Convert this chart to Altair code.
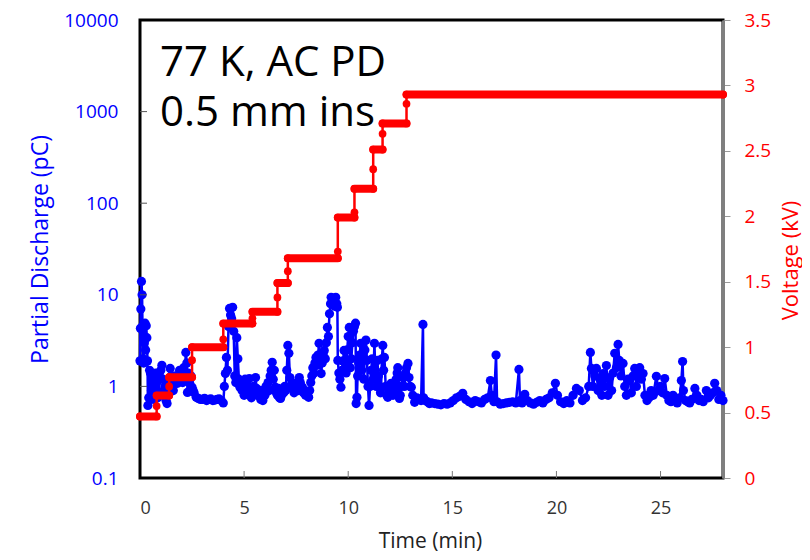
import altair as alt
import pandas as pd

# ---------------- data ----------------
pd_time = [0.00, 0.02, 0.04, 0.07, 0.10, 0.12, 0.15, 0.18, 0.21, 0.24, 0.27, 0.30, 0.33, 0.36, 0.38,
           0.42, 0.46, 0.50, 0.55, 0.60, 0.65, 0.70, 0.75, 0.80, 0.85, 0.90, 0.95, 1.00, 1.05, 1.10,
           1.15, 1.20, 1.25, 1.30, 1.35, 1.40, 1.45, 1.50, 1.55, 1.60, 1.65, 1.70, 1.75, 1.80, 1.85,
           1.90, 1.95, 2.00, 2.05, 2.10, 2.15, 2.20, 2.25, 2.28, 2.32, 2.38, 2.45, 2.50, 2.55, 2.60,
           2.70, 2.80, 2.90, 3.00, 3.10, 3.20, 3.30, 3.40, 3.50, 3.60, 3.70, 3.80, 3.90, 4.00, 4.05,
           4.10, 4.15, 4.20, 4.25, 4.30, 4.35, 4.40, 4.45, 4.50, 4.55, 4.60, 4.65, 4.70, 4.75, 4.80,
           4.85, 4.90, 4.95, 5.00, 5.05, 5.10, 5.15, 5.20, 5.25, 5.30, 5.35, 5.40, 5.45, 5.50, 5.55,
           5.60, 5.65, 5.70, 5.75, 5.80, 5.85, 5.90, 5.95, 6.00, 6.05, 6.10, 6.15, 6.20, 6.25, 6.30,
           6.35, 6.40, 6.45, 6.50, 6.55, 6.60, 6.65, 6.70, 6.75, 6.80, 6.85, 6.90, 6.95, 7.00, 7.05,
           7.10, 7.15, 7.20, 7.25, 7.30, 7.35, 7.40, 7.45, 7.50, 7.55, 7.60, 7.65, 7.70, 7.75, 7.80,
           7.85, 7.90, 7.95, 8.00, 8.05, 8.10, 8.15, 8.20, 8.25, 8.30, 8.35, 8.40, 8.45, 8.50, 8.55,
           8.60, 8.65, 8.70, 8.75, 8.80, 8.85, 8.90, 8.95, 9.00, 9.05, 9.10, 9.15, 9.18, 9.25, 9.30,
           9.35, 9.40, 9.45, 9.48, 9.50, 9.55, 9.60, 9.65, 9.70, 9.75, 9.80, 9.85, 9.90, 9.95, 10.00,
           10.05, 10.10, 10.15, 10.20, 10.25, 10.30, 10.35, 10.38, 10.42, 10.45, 10.50, 10.55, 10.60,
           10.65, 10.70, 10.75, 10.80, 10.85, 10.90, 10.95, 11.00, 11.05, 11.10, 11.15, 11.20, 11.26,
           11.30, 11.35, 11.40, 11.45, 11.50, 11.55, 11.58, 11.62, 11.66, 11.70, 11.74, 11.80, 11.85,
           11.90, 11.95, 12.00, 12.06, 12.10, 12.15, 12.20, 12.25, 12.30, 12.35, 12.38, 12.42, 12.46,
           12.50, 12.55, 12.62, 12.70, 12.75, 12.80, 12.87, 12.92, 12.97, 13.03, 13.10, 13.19, 13.30,
           13.40, 13.50, 13.59, 13.62, 13.70, 13.80, 13.90, 14.00, 14.15, 14.30, 14.45, 14.60, 14.75,
           14.90, 15.05, 15.20, 15.35, 15.50, 15.65, 15.80, 15.95, 16.10, 16.25, 16.40, 16.55, 16.70,
           16.83, 16.90, 17.00, 17.10, 17.15, 17.30, 17.45, 17.60, 17.75, 17.90, 18.05, 18.20, 18.25,
           18.35, 18.48, 18.60, 18.75, 18.90, 19.05, 19.20, 19.35, 19.50, 19.65, 19.80, 19.95, 20.05,
           20.20, 20.35, 20.50, 20.65, 20.80, 20.96, 21.10, 21.25, 21.40, 21.55, 21.63, 21.68, 21.75,
           21.85, 21.92, 22.00, 22.10, 22.18, 22.24, 22.30, 22.40, 22.48, 22.56, 22.65, 22.72, 22.80,
           22.88, 22.96, 23.02, 23.10, 23.20, 23.28, 23.36, 23.44, 23.52, 23.60, 23.68, 23.76, 23.84,
           23.92, 24.00, 24.08, 24.16, 24.25, 24.35, 24.45, 24.55, 24.65, 24.80, 24.90, 25.00, 25.10,
           25.20, 25.30, 25.40, 25.50, 25.60, 25.70, 25.80, 25.92, 26.00, 26.06, 26.10, 26.20, 26.30,
           26.40, 26.50, 26.65, 26.75, 26.85, 26.95, 27.05, 27.20, 27.30, 27.40, 27.50, 27.60, 27.70,
           27.80, 27.90, 28.00]
pd_pc = [1.9, 4.3, 7.0, 14.0, 10.0, 4.5, 2.0, 1.8, 3.0, 4.9, 2.5, 4.6, 3.4, 1.9, 0.62,
         0.75, 1.5, 1.4, 0.9, 1.15, 0.72, 0.8, 1.4, 1.1, 0.75, 0.86, 1.2, 1.5, 1.7, 1.2,
         0.9, 1.0, 0.7, 0.65, 0.8, 1.2, 1.57, 1.3, 1.0, 0.9, 1.1, 1.3, 1.2, 1.08, 1.3,
         1.5, 1.2, 1.4, 1.1, 1.6, 1.3, 2.35, 1.8, 0.86, 1.4, 1.1, 1.3, 0.98, 0.9, 0.85,
         0.76, 0.74, 0.72, 0.72, 0.74, 0.70, 0.72, 0.73, 0.70, 0.71, 0.72, 0.73, 0.70, 0.66, 1.0,
         1.38, 2.07, 1.5, 4.5, 7.1, 6.0, 5.5, 7.3, 4.0, 1.3, 1.1, 3.4, 2.0, 1.2, 0.98,
         1.1, 0.9, 1.0, 0.8, 1.2, 0.9, 0.85, 1.0, 1.22, 0.8, 0.75, 0.9, 1.0, 0.85, 1.25,
         0.95, 0.8, 0.9, 0.78, 0.72, 0.9, 0.7, 0.85, 0.8, 1.0, 0.9, 1.1, 0.9, 1.3, 1.5,
         1.83, 1.2, 1.5, 0.98, 0.85, 0.8, 0.95, 0.75, 0.74, 0.8, 0.9, 0.85, 1.0, 0.9, 1.5,
         2.8, 2.3, 1.25, 1.0, 1.1, 0.98, 0.85, 0.9, 1.0, 1.1, 0.9, 1.25, 1.1, 0.95, 0.98,
         0.85, 0.9, 0.8, 0.85, 0.8, 0.76, 0.9, 1.1, 1.3, 1.6, 1.4, 1.8, 2.07, 1.7, 2.2,
         2.95, 2.0, 1.38, 1.8, 2.2, 2.47, 2.0, 3.0, 4.4, 3.5, 6.2, 8.0, 9.4, 8.5, 9.0,
         7.5, 9.4, 8.0, 7.3, 1.92, 1.4, 1.2, 0.98, 1.5, 1.9, 2.47, 1.8, 1.4, 2.5, 3.5,
         4.4, 1.6, 2.0, 3.0, 4.0, 4.5, 4.9, 0.65, 0.76, 1.3, 1.8, 2.2, 2.95,
         1.5, 2.0, 1.2, 2.5, 3.2, 1.92, 1.0, 0.62, 1.0, 1.5, 2.0, 1.2, 2.95,
         1.5, 1.0, 1.92, 1.3, 1.0, 0.85, 0.98, 2.0, 2.8, 1.5, 2.07, 1.0, 0.8,
         0.76, 0.9, 0.85, 1.08, 0.9, 0.8, 0.85, 1.0, 1.2, 1.4, 1.6, 1.0, 0.74,
         0.8, 1.0, 1.25, 1.0, 1.4, 1.6, 1.78, 1.25, 1.0, 0.98, 0.8, 0.67, 0.75,
         0.72, 0.70, 4.75, 0.75, 0.70, 0.68, 0.65, 0.66, 0.65, 0.64, 0.63, 0.65, 0.64,
         0.66, 0.70, 0.75, 0.78, 0.84, 0.72, 0.68, 0.65, 0.70, 0.68, 0.66, 0.72, 0.75,
         1.16, 0.80, 0.68, 2.2, 0.68, 0.64, 0.65, 0.66, 0.67, 0.68, 0.66, 1.53, 0.70,
         0.66, 0.82, 0.70, 0.66, 0.64, 0.67, 0.70, 0.66, 0.72, 0.75, 0.85, 1.08, 0.80,
         0.68, 0.65, 0.70, 0.66, 0.80, 0.95, 0.90, 0.70, 0.75, 1.0, 2.35, 1.57, 1.0,
         1.3, 1.57, 0.9, 1.2, 0.8, 1.38, 1.0, 1.69, 0.8, 1.25, 0.9, 1.4, 2.3,
         1.6, 2.87, 1.92, 1.3, 1.78, 1.0, 0.8, 1.2, 1.16, 0.85, 1.3, 1.57, 1.0,
         1.3, 1.6, 1.2, 1.38, 0.8, 0.70, 0.75, 0.9, 0.8, 1.29, 0.9, 1.0, 0.85,
         1.22, 0.8, 0.70, 0.68, 0.8, 0.70, 0.66, 0.75, 1.16, 1.87, 0.9, 0.70, 0.68,
         0.66, 0.72, 0.95, 0.8, 0.70, 0.72, 0.68, 0.9, 0.75, 0.8, 0.85, 1.08, 0.9,
         0.72, 0.8, 0.7]

# voltage steps (kV)
step_start = [0.0, 0.8, 1.4, 2.5, 4.0, 5.4, 6.6, 7.1, 9.5, 10.3, 11.2, 11.65, 12.8]
step_end = [0.8, 1.4, 2.5, 4.0, 5.4, 6.6, 7.1, 9.5, 10.3, 11.2, 11.65, 12.8, 28.0]
step_kv = [0.47, 0.63, 0.77, 1.0, 1.18, 1.27, 1.49, 1.68, 1.99, 2.21, 2.51, 2.71, 2.93]
# readings taken during each ramp between steps
ramp_kv = [0.55, 0.70, 0.90, 1.06, 1.22, 1.38, 1.58, 1.73, 2.03, 2.36, 2.63, 2.86]

x_ticks = [0, 5, 10, 15, 20, 25]
pd_ticks = [0.1, 1, 10, 100, 1000, 10000]
kv_ticks = [0, 0.5, 1, 1.5, 2, 2.5, 3, 3.5]

BLUE = "#0000FF"
RED = "#FF0000"
FONT = "Open Sans"
W, H = 583, 458

# ---------------- tables ----------------
pd_df = pd.DataFrame({"t": pd_time, "pc": pd_pc})
steps_df = pd.DataFrame({"s": step_start, "e": step_end, "kv": step_kv})
vt, vv = [], []
for i in range(len(step_kv)):
    vt += [step_start[i], step_end[i]]
    vv += [step_kv[i], step_kv[i]]
    if i < len(ramp_kv):
        vt.append(step_end[i])
        vv.append(ramp_kv[i])
volt_df = pd.DataFrame({"t": vt, "kv": vv})
xt_df = pd.DataFrame({"t": x_ticks[1:]})
pdt_df = pd.DataFrame({"pc": pd_ticks[1:-1]})
note_df = pd.DataFrame({"a": [0]})

x_scale = alt.Scale(domain=[0, 28], nice=False, zero=False)
x_axis = alt.Axis(values=x_ticks, tickSize=0, domain=False, grid=False, labelPadding=21,
                  labelFontSize=18, labelColor="#333333", labelFont=FONT,
                  title="Time (min)", titleFontSize=21, titleFont=FONT,
                  titleFontWeight="normal", titleColor="#222222",
                  titleX=290, titleY=63, titleAlign="center", titleBaseline="middle")
pd_scale = alt.Scale(type="log", domain=[0.1, 10000], nice=False)
pd_axis = alt.Axis(values=pd_ticks, format="~g", tickSize=0, domain=False, grid=False,
                   labelPadding=22, labelFontSize=19, labelColor=BLUE, labelFont=FONT,
                   title="Partial Discharge (pC)", titleFontSize=23, titleFont=FONT,
                   titleFontWeight="normal", titleColor=BLUE, titlePadding=11)
kv_scale = alt.Scale(domain=[0, 3.5], nice=False, zero=False)
kv_axis = alt.Axis(orient="right", values=kv_ticks, format="~g", tickSize=7,
                   tickColor="#9a9a9a", domain=True, domainColor="#7f7f7f", domainWidth=3,
                   grid=False, labelPadding=14, labelFontSize=19, labelColor=RED,
                   labelFont=FONT, title="Voltage (kV)", titleFontSize=22, titleFont=FONT,
                   titleFontWeight="normal", titleColor=RED, titleAngle=270,
                   titleX=67, titleY=240, titleAlign="center", titleBaseline="middle")

# ---------------- blue (partial discharge) ----------------
pd_line = alt.Chart(pd_df).mark_line(color=BLUE, strokeWidth=2.5).encode(
    x=alt.X("t:Q", scale=x_scale, axis=x_axis),
    y=alt.Y("pc:Q", scale=pd_scale, axis=pd_axis),
    order="t:Q",
)
pd_pts = alt.Chart(pd_df).mark_circle(color=BLUE, size=85, opacity=1).encode(
    x=alt.X("t:Q", scale=x_scale), y=alt.Y("pc:Q", scale=pd_scale)
)
pd_inner_ticks = alt.Chart(pdt_df).mark_rule(color="#555555", strokeWidth=1).encode(
    y=alt.Y("pc:Q", scale=pd_scale), x=alt.value(0), x2=alt.value(7)
)
x_inner_ticks = alt.Chart(xt_df).mark_rule(color="#777777", strokeWidth=1).encode(
    x=alt.X("t:Q", scale=x_scale), y=alt.value(H), y2=alt.value(H - 7)
)
note1 = alt.Chart(note_df).mark_text(align="left", baseline="alphabetic", fontSize=42,
                                     font=FONT, color="#000000").encode(
    x=alt.value(20), y=alt.value(56), text=alt.value("77 K, AC PD"))
note2 = alt.Chart(note_df).mark_text(align="left", baseline="alphabetic", fontSize=42,
                                     font=FONT, color="#000000").encode(
    x=alt.value(20), y=alt.value(106), text=alt.value("0.5 mm ins"))

blue = alt.layer(pd_line, pd_pts, pd_inner_ticks, x_inner_ticks, note1, note2)

# ---------------- red (voltage) ----------------
v_line = alt.Chart(volt_df).mark_line(color=RED, strokeWidth=2.5).encode(
    x=alt.X("t:Q", scale=x_scale),
    y=alt.Y("kv:Q", scale=kv_scale, axis=kv_axis),
    order=alt.Order("idx:Q"),
).transform_window(idx="row_number()")
v_pts = alt.Chart(volt_df).mark_circle(color=RED, size=60, opacity=1).encode(
    x=alt.X("t:Q", scale=x_scale), y=alt.Y("kv:Q", scale=kv_scale)
)
v_steps = alt.Chart(steps_df).mark_rule(color=RED, strokeWidth=8, strokeCap="round").encode(
    x=alt.X("s:Q", scale=x_scale), x2="e:Q", y=alt.Y("kv:Q", scale=kv_scale)
)
red = alt.layer(v_line, v_pts, v_steps)

chart = alt.layer(blue, red).resolve_scale(y="independent").properties(
    width=W, height=H,
    autosize=alt.AutoSizeParams(type="none"),
    padding={"left": 132, "top": 12, "right": 79, "bottom": 74},
    background="white",
).configure_view(stroke="#000000", strokeWidth=3)

chart.save("out.html", embed_options={"renderer": "svg", "actions": False})
